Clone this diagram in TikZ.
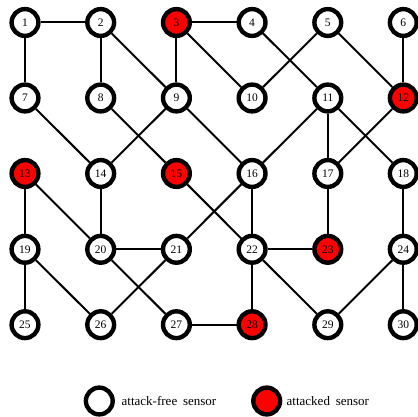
\documentclass[tikz,border=0pt]{standalone}
\usepackage{fontspec}
\setmainfont{Liberation Serif}
\begin{document}
\begin{tikzpicture}[x=1pt,y=-1pt,
  sensor/.style={circle,draw=black,line width=4.4pt,minimum size=26.8pt,inner sep=0pt,fill=white,font=\fontsize{11.5}{13}\selectfont},
  attacked/.style={sensor,fill=red},
  link/.style={line width=2pt}]
\useasboundingbox (0,0) rectangle (418,417);
\def\cA{25}\def\cB{100.7}\def\cC{176.4}\def\cD{252.1}\def\cE{327.8}\def\cF{403.3}
\def\rA{22.5}\def\rB{98}\def\rC{173.5}\def\rD{249.3}\def\rE{324.7}
% nodes
\node[sensor] (n1) at (\cA,\rA) {1};
\node[sensor] (n2) at (\cB,\rA) {2};
\node[attacked] (n3) at (\cC,\rA) {3};
\node[sensor] (n4) at (\cD,\rA) {4};
\node[sensor] (n5) at (\cE,\rA) {5};
\node[sensor] (n6) at (\cF,\rA) {6};
\node[sensor] (n7) at (\cA,\rB) {7};
\node[sensor] (n8) at (\cB,\rB) {8};
\node[sensor] (n9) at (\cC,\rB) {9};
\node[sensor] (n10) at (\cD,\rB) {10};
\node[sensor] (n11) at (\cE,\rB) {11};
\node[attacked] (n12) at (\cF,\rB) {12};
\node[attacked] (n13) at (\cA,\rC) {13};
\node[sensor] (n14) at (\cB,\rC) {14};
\node[attacked] (n15) at (\cC,\rC) {15};
\node[sensor] (n16) at (\cD,\rC) {16};
\node[sensor] (n17) at (\cE,\rC) {17};
\node[sensor] (n18) at (\cF,\rC) {18};
\node[sensor] (n19) at (\cA,\rD) {19};
\node[sensor] (n20) at (\cB,\rD) {20};
\node[sensor] (n21) at (\cC,\rD) {21};
\node[sensor] (n22) at (\cD,\rD) {22};
\node[attacked] (n23) at (\cE,\rD) {23};
\node[sensor] (n24) at (\cF,\rD) {24};
\node[sensor] (n25) at (\cA,\rE) {25};
\node[sensor] (n26) at (\cB,\rE) {26};
\node[sensor] (n27) at (\cC,\rE) {27};
\node[attacked] (n28) at (\cD,\rE) {28};
\node[sensor] (n29) at (\cE,\rE) {29};
\node[sensor] (n30) at (\cF,\rE) {30};
% edges
\foreach \a/\b in {1/2,1/7,2/8,2/9,3/4,3/9,3/10,4/11,5/10,5/12,6/12,7/14,8/15,9/14,9/16,11/16,11/17,11/18,12/17,13/19,13/20,14/20,15/22,16/22,16/21,17/23,18/24,19/25,19/26,20/21,20/27,21/26,22/23,22/28,22/29,24/29,24/30,27/28}
  \draw[link] (n\a) -- (n\b);
% legend
\node[sensor] (lf) at (99.3,401) {};
\node[anchor=west,font=\fontsize{13}{15}\selectfont,inner sep=0pt] (lft) at (121.5,401) {attack-free\hspace{0.2em} sensor};
\node[attacked] (la) at (266.7,401) {};
\node[anchor=west,font=\fontsize{13}{15}\selectfont,inner sep=0pt] (lat) at (286.5,401) {attacked\hspace{0.2em} sensor};
\end{tikzpicture}
\end{document}
